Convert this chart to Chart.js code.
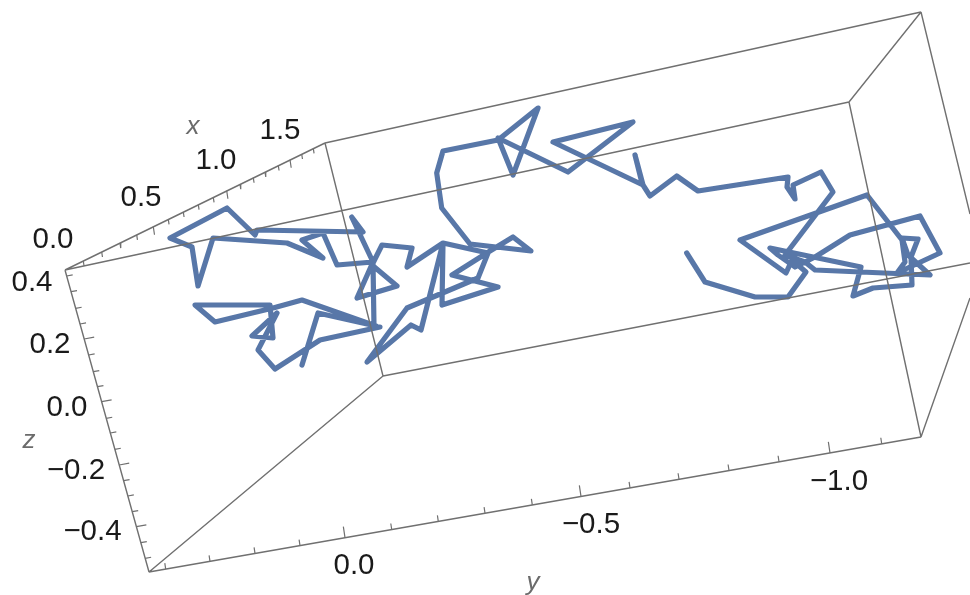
<!DOCTYPE html>
<html><head><meta charset="utf-8">
<style>html,body{margin:0;padding:0;background:#fff}canvas{display:block;filter:blur(0.5px)}</style>
<script src="https://cdn.jsdelivr.net/npm/chart.js@4"></script></head>
<body><canvas id="c" width="970" height="595"></canvas>
<script>
// Projected path
const pathX=[686.7,705,755,788,806,792,786,740,867,902,905,897,940,920,850,815,795,778,770,861,853,873,912,911,918,902,908,930,815,805,785,833,821,793,795,787,788,698,676.7,650,643,635,642,643,553,633,568,498,513,538,498,443,436.7,441.7,470,531,513,490,452,498,442,443,421,411,367,407,478,488,443,407,412,382,372,397,357,373,351.7,363,257,255,227,170,192,198,213,287,323,302,323,337,373,374,380,320,275,258,277,252,273,270,195,215,273,302,376,318,302];
const pathY=[253,282,297,297,272,260,273,240,195,240,262,273,253,216,235,257,267,255,248,267,296,288,285,257,239,238,255,275,270,262,255,192,172,185,199,187,177,191,176,196,185,155,183,185,142,122,172,138,175,108,140,151,173,208,244,251,237,251,275,287,305,243,330,325,362,308,278,253,243,267,248,245,265,286,298,262,217,232,230,235,208,238,247,286,238,243,258,240,233,265,262,327,327,340,369,350,313,336,338,305,305,322,308,300,326,313,365];
// Frame edges of the box: x1,y1,x2,y2
const edgeX1=[65,65,149,325,65,325,383,383,849,921,849,921];
const edgeY1=[270,270,572,143,270,143,376,376,102,12,102,437];
const edgeX2=[325,149,921,921,849,383,149,970,921,970,921,970];
const edgeY2=[143,572,437,12,102,376,572,263,12,214,437,298];
// Tick marks read along the three axes
const xTickX=[83.3,101.7,120,136.7,153.3,168.3,183.3,198.3,213.3,226.7,240,253.3,265,278.3,290,301.7,313.3];
const xMajor=[153.3,226.7,290];
const zTickY=[276,291.7,308.3,324,339,355,371.7,386.7,401.7,418.3,433,449.3,465,480.7,496,511.7,526.7,542.7,558.3];
const zMajor=[339,401.7,465,526.7];
const yTickX=[165.7,210,255,300,345,391.7,438.3,485,532.3,581,630,679,729,779,830,881.7];
const yMajor=[345,581,830];
// Tick labels
const xLabels=["0.0","0.5","1.0","1.5"];
const xLabelX=[53,141,216,280], xLabelY=[240,198,161,131];
const zLabels=["0.4","0.2","0.0","\u22120.2","\u22120.4"];
const zLabelX=[32,50,67,76,92.5], zLabelY=[283,345,408,471,532];
const yLabels=["0.0","\u22120.5","\u22121.0"];
const yLabelX=[354,591,839], yLabelY=[566,525,482];
const axisNames=["x","y","z"];
const axisNameX=[193,533,29], axisNameY=[127,583,441];

const path=pathX.map((x,i)=>({x,y:pathY[i]}));
const seg=[];
const gap=()=>seg.push({x:NaN,y:NaN});
edgeX1.forEach((x,i)=>{seg.push({x,y:edgeY1[i]},{x:edgeX2[i],y:edgeY2[i]});gap();});
const ticks=[];
xTickX.forEach(x=>{const y=270-0.49*(x-65);const l=xMajor.includes(x)?8:5;ticks.push({x,y},{x:x+0.15*l,y:y+l});ticks.push({x:NaN,y:NaN});});
zTickY.forEach(y=>{const x=65+0.278*(y-270);const l=zMajor.includes(y)?10:6;ticks.push({x,y},{x:x+l,y:y-0.18*l});ticks.push({x:NaN,y:NaN});});
yTickX.forEach(x=>{const y=572-0.175*(x-149);const l=yMajor.includes(x)?11:6;ticks.push({x,y},{x:x-0.15*l,y:y-l});ticks.push({x:NaN,y:NaN});});

const textPlugin={id:'labels',afterDatasetsDraw(ch){
  const c=ch.ctx,sx=ch.scales.x,sy=ch.scales.y;
  c.save();c.textAlign='center';c.textBaseline='middle';
  c.font='29.5px "Liberation Sans"';c.fillStyle='#1a1a1a';
  const put=(t,x,y)=>c.fillText(t,sx.getPixelForValue(x),sy.getPixelForValue(y));
  xLabels.forEach((t,i)=>put(t,xLabelX[i],xLabelY[i]));
  zLabels.forEach((t,i)=>put(t,zLabelX[i],zLabelY[i]));
  yLabels.forEach((t,i)=>put(t,yLabelX[i],yLabelY[i]));
  c.font='italic 26px "Liberation Sans"';c.fillStyle='#6b6b6b';
  axisNames.forEach((t,i)=>put(t,axisNameX[i],axisNameY[i]));
  c.restore();
}};
new Chart(document.getElementById('c'),{type:'scatter',
 data:{datasets:[
  {data:seg,showLine:true,borderColor:'#707070',borderWidth:1.4,pointRadius:0,spanGaps:false},
  {data:ticks,showLine:true,borderColor:'#707070',borderWidth:1.2,pointRadius:0,spanGaps:false},
  {data:path,showLine:true,borderColor:'#5877a8',borderWidth:5.2,pointRadius:0,borderJoinStyle:'round',borderCapStyle:'round',tension:0}
 ]},
 options:{responsive:false,animation:false,events:[],layout:{padding:0},
  plugins:{legend:{display:false},tooltip:{enabled:false},title:{display:false}},
  scales:{x:{type:'linear',display:false,min:0,max:970},y:{type:'linear',display:false,min:0,max:595,reverse:true}}},
 plugins:[textPlugin]});
</script></body></html>
